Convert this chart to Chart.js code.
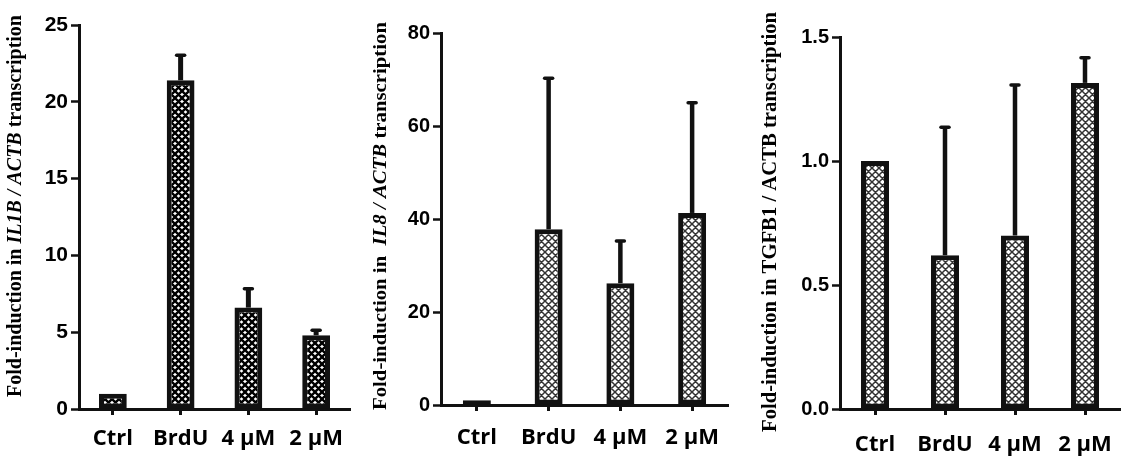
<!DOCTYPE html>
<html><head><meta charset="utf-8">
<script src="https://cdn.jsdelivr.net/npm/chart.js@4.4.1/dist/chart.umd.min.js"></script>
<style>
html,body{margin:0;padding:0;background:#fff;}
body{width:1141px;height:462px;position:relative;overflow:hidden;}
.p{position:absolute;top:0;}
</style></head><body>
<div class="p" style="left:0px"><canvas id="c1" width="370" height="462"></canvas></div>
<div class="p" style="left:370px"><canvas id="c2" width="390" height="462"></canvas></div>
<div class="p" style="left:760px"><canvas id="c3" width="381" height="462"></canvas></div>
<script>
const categories = ['Ctrl', 'BrdU', '4 \u00B5M', '2 \u00B5M'];
const il1bValues = [1.0, 21.4, 6.6, 4.8];
const il1bErrors = [0, 1.7, 1.3, 0.4];
const il8Values = [1.0, 37.8, 26.2, 41.3];
const il8Errors = [0, 32.7, 9.3, 23.9];
const tgfb1Values = [1.0, 0.62, 0.70, 1.315];
const tgfb1Errors = [0, 0.52, 0.61, 0.105];
const il1bTicks = [0, 5, 10, 15, 20, 25];
const il8Ticks = [0, 20, 40, 60, 80];
const tgfb1Ticks = [0, 0.5, 1.0, 1.5];

function makePattern(lineW, color) {
  const s = 7;
  const c = document.createElement('canvas');
  c.width = s; c.height = s;
  const g = c.getContext('2d');
  g.fillStyle = '#fff'; g.fillRect(0, 0, s, s);
  g.strokeStyle = color; g.lineWidth = lineW;
  g.beginPath();
  for (let k = -1; k <= 1; k++) {
    g.moveTo(k * s, 0); g.lineTo(k * s + s, s);
    g.moveTo(k * s + s, 0); g.lineTo(k * s, s);
  }
  g.stroke();
  return g.createPattern(c, 'repeat');
}

const errorBarPlugin = {
  id: 'errbars',
  afterDatasetsDraw(chart, args, opts) {
    const ctx = chart.ctx;
    const ys = chart.scales.y;
    const meta = chart.getDatasetMeta(0);
    const vals = chart.data.datasets[0].data;
    ctx.save();
    ctx.strokeStyle = '#111';
    meta.data.forEach((bar, i) => {
      const e = opts.errors[i];
      if (!e) return;
      const x = bar.x;
      const y0 = ys.getPixelForValue(vals[i]);
      const y1 = ys.getPixelForValue(vals[i] + e);
      ctx.lineCap = 'butt';
      ctx.lineWidth = opts.width;
      ctx.beginPath();
      ctx.moveTo(x, y0); ctx.lineTo(x, y1);
      ctx.stroke();
      ctx.lineCap = 'round';
      ctx.lineWidth = opts.capWidth;
      ctx.beginPath();
      ctx.moveTo(x - opts.cap, y1 + 1); ctx.lineTo(x + opts.cap, y1 + 1);
      ctx.stroke();
    });
    ctx.restore();
  }
};

const titlePlugin = {
  id: 'ytitle',
  afterDraw(chart, args, opts) {
    const ctx = chart.ctx;
    const segs = opts.segments;
    const size = opts.size;
    const fontOf = s => (s.italic ? 'italic ' : '') + 'bold ' + size + 'px "Liberation Serif"';
    ctx.save();
    let w = 0;
    const widths = segs.map(s => { ctx.font = fontOf(s); const m = ctx.measureText(s.text).width; w += m; return m; });
    ctx.translate(opts.x, opts.y);
    ctx.rotate(-Math.PI / 2);
    ctx.scale(opts.length / w, 1);
    ctx.fillStyle = '#000';
    ctx.textBaseline = 'middle';
    ctx.textAlign = 'left';
    let pos = -w / 2;
    segs.forEach((s, i) => {
      ctx.font = fontOf(s);
      ctx.fillText(s.text, pos, 0);
      pos += widths[i];
    });
    ctx.restore();
  }
};

function build(id, cfg) {
  const ctx = document.getElementById(id).getContext('2d');
  return new Chart(ctx, {
    type: 'bar',
    data: {
      labels: categories,
      datasets: [{
        data: cfg.values,
        backgroundColor: makePattern(cfg.patW, cfg.patC),
        borderColor: '#111',
        borderWidth: cfg.border,
        borderSkipped: false,
        barPercentage: cfg.barPct,
        categoryPercentage: 1.0
      }]
    },
    options: {
      responsive: false,
      animation: false,
      devicePixelRatio: 1,
      layout: { padding: { left: 0, right: cfg.padRight, top: cfg.padTop, bottom: 0 } },
      plugins: {
        legend: { display: false },
        tooltip: { enabled: false },
        errbars: { errors: cfg.errors, width: cfg.errW, cap: 4, capWidth: 3.5 },
        ytitle: { segments: cfg.title, x: cfg.titleX, y: cfg.titleY, length: cfg.titleLen, size: cfg.titleSize }
      },
      scales: {
        x: {
          offset: true,
          grid: { display: true, offset: false, drawOnChartArea: false, drawTicks: true, tickLength: 6, tickWidth: 3, tickColor: '#111' },
          border: { display: true, width: 3, color: '#111' },
          ticks: { color: '#000', padding: cfg.xPad, font: { family: '"Open Sans"', weight: 'bold', size: 22 }, maxRotation: 0 },
          afterFit(s) { s.height = cfg.xHeight; }
        },
        y: {
          min: cfg.ticks[0],
          max: cfg.ticks[cfg.ticks.length - 1],
          afterBuildTicks(s) { s.ticks = cfg.ticks.map(v => ({ value: v })); },
          grid: { display: true, drawOnChartArea: false, drawTicks: true, tickLength: 8, tickWidth: 2.5, tickColor: '#111' },
          border: { display: true, width: 3, color: '#111' },
          ticks: {
            color: '#000', padding: 3,
            font: { family: '"Liberation Sans"', weight: 'bold', size: cfg.tickSize },
            callback: cfg.fmt
          },
          afterFit(s) { s.width = cfg.yWidth; }
        }
      }
    },
    plugins: [errorBarPlugin, titlePlugin]
  });
}

build('c1', {
  values: il1bValues, errors: il1bErrors, ticks: il1bTicks,
  fmt: v => String(v),
  patW: 2.4, patC: '#000', border: 5, barPct: 0.41, errW: 5,
  padRight: 20, padTop: 25, yWidth: 79, xHeight: 53, xPad: 11, tickSize: 21,
  title: [{ text: 'Fold-induction in ', italic: false }, { text: 'IL1B / ACTB', italic: true }, { text: ' transcription', italic: false }],
  titleX: 16, titleY: 206, titleLen: 382, titleSize: 20
});
build('c2', {
  values: il8Values, errors: il8Errors, ticks: il8Ticks,
  fmt: v => String(v),
  patW: 1.5, patC: '#333', border: 5, barPct: 0.39, errW: 4.5,
  padRight: 32, padTop: 33, yWidth: 71, xHeight: 57, xPad: 14, tickSize: 20,
  title: [{ text: 'Fold-induction in  ', italic: false }, { text: 'IL8 / ACTB', italic: true }, { text: ' transcription', italic: false }],
  titleX: 11, titleY: 216, titleLen: 388, titleSize: 19
});
build('c3', {
  values: tgfb1Values, errors: tgfb1Errors, ticks: tgfb1Ticks,
  fmt: v => v.toFixed(1),
  patW: 1.5, patC: '#333', border: 5, barPct: 0.40, errW: 4.5,
  padRight: 21, padTop: 37, yWidth: 80, xHeight: 53, xPad: 17, tickSize: 20,
  title: [{ text: 'Fold-induction in TGFB1 / ACTB transcription', italic: false }],
  titleX: 11, titleY: 222, titleLen: 420, titleSize: 20
});
</script>
</body></html>
